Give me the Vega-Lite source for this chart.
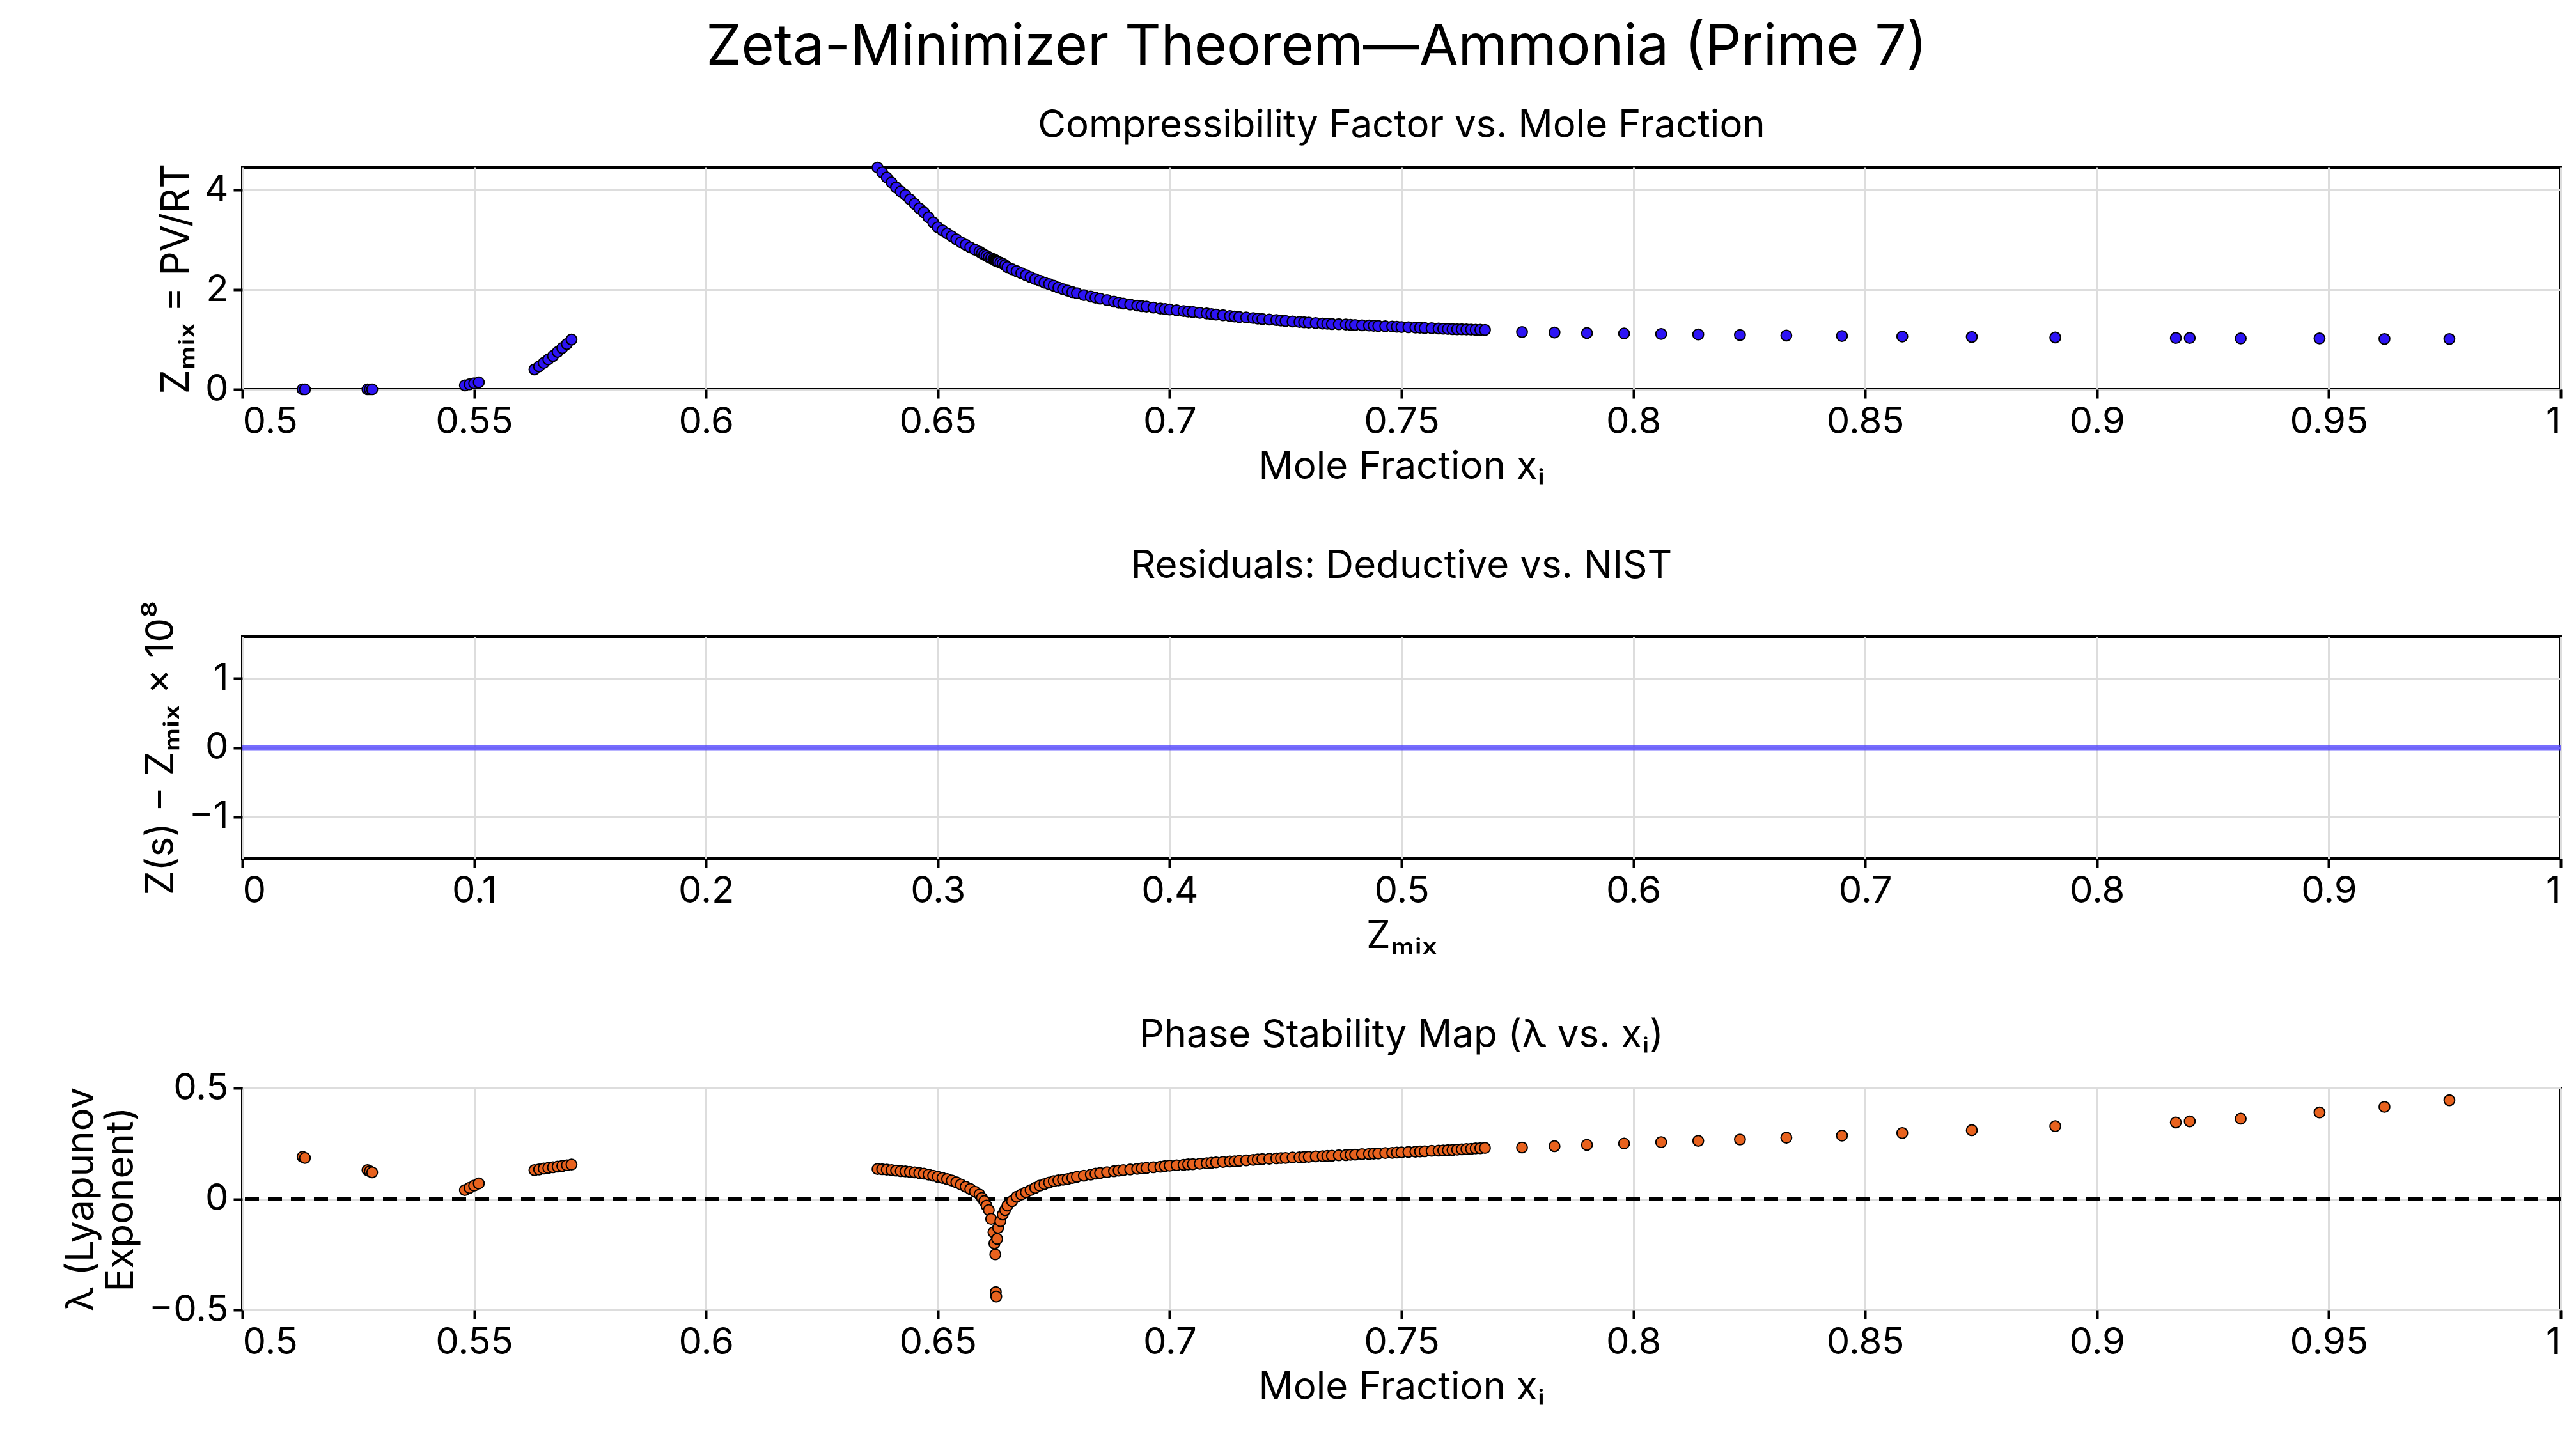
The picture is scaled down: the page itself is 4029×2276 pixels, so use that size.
{
  "$schema": "https://vega.github.io/schema/vega-lite/v6.json",
  "background": "white",
  "padding": {"left": 95, "top": 30, "right": 25, "bottom": 10},
  "title": {"text": "Zeta-Minimizer Theorem—Ammonia (Prime 7)", "fontSize": 88, "font": "Inter", "fontWeight": "normal", "anchor": "middle", "offset": 46},
  "config": {
    "font": "Inter",
    "view": {"stroke": "black", "strokeWidth": 4},
    "title": {"fontSize": 60, "fontWeight": "normal", "font": "Inter", "offset": 22},
    "axis": {"labelFontSize": 58, "titleFontSize": 60, "titleFontWeight": "normal", "labelFont": "Inter", "titleFont": "Inter",
             "domain": false, "tickColor": "black", "tickWidth": 4, "tickSize": 14, "labelPadding": 8, "titlePadding": 12,
             "gridColor": "#dddddd", "gridWidth": 3, "labelColor": "black", "titleColor": "black"}
  },
  "spacing": 92,
  "datasets": {
    "pts": [
      {"x": 0.513, "z": 0.0, "lam": 0.19},
      {"x": 0.5135, "z": 0.0, "lam": 0.185},
      {"x": 0.527, "z": 0.0, "lam": 0.13},
      {"x": 0.5275, "z": 0.0, "lam": 0.125},
      {"x": 0.528, "z": 0.0, "lam": 0.12},
      {"x": 0.548, "z": 0.08, "lam": 0.04},
      {"x": 0.549, "z": 0.1, "lam": 0.05},
      {"x": 0.55, "z": 0.12, "lam": 0.06},
      {"x": 0.551, "z": 0.14, "lam": 0.07},
      {"x": 0.563, "z": 0.4, "lam": 0.13},
      {"x": 0.564, "z": 0.46, "lam": 0.133},
      {"x": 0.565, "z": 0.53, "lam": 0.137},
      {"x": 0.566, "z": 0.6, "lam": 0.14},
      {"x": 0.567, "z": 0.67, "lam": 0.143},
      {"x": 0.568, "z": 0.75, "lam": 0.146},
      {"x": 0.569, "z": 0.83, "lam": 0.149},
      {"x": 0.57, "z": 0.91, "lam": 0.152},
      {"x": 0.571, "z": 1.0, "lam": 0.155},
      {"x": 0.637, "z": 4.45, "lam": 0.135},
      {"x": 0.638, "z": 4.35, "lam": 0.134},
      {"x": 0.639, "z": 4.25, "lam": 0.132},
      {"x": 0.64, "z": 4.15, "lam": 0.13},
      {"x": 0.641, "z": 4.05, "lam": 0.128},
      {"x": 0.642, "z": 3.97, "lam": 0.126},
      {"x": 0.643, "z": 3.9, "lam": 0.124},
      {"x": 0.644, "z": 3.81, "lam": 0.122},
      {"x": 0.645, "z": 3.72, "lam": 0.12},
      {"x": 0.646, "z": 3.63, "lam": 0.117},
      {"x": 0.647, "z": 3.55, "lam": 0.114},
      {"x": 0.648, "z": 3.45, "lam": 0.11},
      {"x": 0.649, "z": 3.35, "lam": 0.105},
      {"x": 0.65, "z": 3.25, "lam": 0.1},
      {"x": 0.651, "z": 3.19, "lam": 0.095},
      {"x": 0.652, "z": 3.13, "lam": 0.09},
      {"x": 0.653, "z": 3.07, "lam": 0.083},
      {"x": 0.654, "z": 3.01, "lam": 0.075},
      {"x": 0.655, "z": 2.95, "lam": 0.065},
      {"x": 0.656, "z": 2.9, "lam": 0.055},
      {"x": 0.657, "z": 2.85, "lam": 0.045},
      {"x": 0.658, "z": 2.8, "lam": 0.033},
      {"x": 0.659, "z": 2.76, "lam": 0.02},
      {"x": 0.6595, "z": 2.73, "lam": 0.005},
      {"x": 0.66, "z": 2.7, "lam": -0.01},
      {"x": 0.6605, "z": 2.68, "lam": -0.03},
      {"x": 0.661, "z": 2.65, "lam": -0.05},
      {"x": 0.6615, "z": 2.63, "lam": -0.09},
      {"x": 0.662, "z": 2.61, "lam": -0.15},
      {"x": 0.6622, "z": 2.6, "lam": -0.2},
      {"x": 0.6624, "z": 2.59, "lam": -0.25},
      {"x": 0.6625, "z": 2.58, "lam": -0.42},
      {"x": 0.6626, "z": 2.58, "lam": -0.44},
      {"x": 0.6628, "z": 2.57, "lam": -0.18},
      {"x": 0.663, "z": 2.56, "lam": -0.13},
      {"x": 0.6635, "z": 2.54, "lam": -0.1},
      {"x": 0.664, "z": 2.52, "lam": -0.07},
      {"x": 0.6645, "z": 2.49, "lam": -0.05},
      {"x": 0.665, "z": 2.45, "lam": -0.03},
      {"x": 0.666, "z": 2.41, "lam": -0.01},
      {"x": 0.667, "z": 2.37, "lam": 0.01},
      {"x": 0.668, "z": 2.33, "lam": 0.02},
      {"x": 0.669, "z": 2.29, "lam": 0.03},
      {"x": 0.67, "z": 2.25, "lam": 0.04},
      {"x": 0.671, "z": 2.21, "lam": 0.05},
      {"x": 0.672, "z": 2.18, "lam": 0.06},
      {"x": 0.673, "z": 2.14, "lam": 0.067},
      {"x": 0.674, "z": 2.11, "lam": 0.074},
      {"x": 0.675, "z": 2.08, "lam": 0.08},
      {"x": 0.676, "z": 2.04, "lam": 0.084},
      {"x": 0.677, "z": 2.01, "lam": 0.087},
      {"x": 0.678, "z": 1.98, "lam": 0.09},
      {"x": 0.679, "z": 1.95, "lam": 0.095},
      {"x": 0.68, "z": 1.93, "lam": 0.1},
      {"x": 0.6815, "z": 1.89, "lam": 0.105},
      {"x": 0.683, "z": 1.86, "lam": 0.11},
      {"x": 0.684, "z": 1.84, "lam": 0.114},
      {"x": 0.685, "z": 1.82, "lam": 0.117},
      {"x": 0.6865, "z": 1.79, "lam": 0.121},
      {"x": 0.688, "z": 1.76, "lam": 0.125},
      {"x": 0.689, "z": 1.74, "lam": 0.128},
      {"x": 0.69, "z": 1.72, "lam": 0.13},
      {"x": 0.6915, "z": 1.7, "lam": 0.133},
      {"x": 0.693, "z": 1.68, "lam": 0.136},
      {"x": 0.694, "z": 1.67, "lam": 0.138},
      {"x": 0.695, "z": 1.66, "lam": 0.14},
      {"x": 0.6965, "z": 1.64, "lam": 0.143},
      {"x": 0.698, "z": 1.62, "lam": 0.145},
      {"x": 0.699, "z": 1.61, "lam": 0.148},
      {"x": 0.7, "z": 1.6, "lam": 0.15},
      {"x": 0.7015, "z": 1.585, "lam": 0.152},
      {"x": 0.703, "z": 1.57, "lam": 0.154},
      {"x": 0.704, "z": 1.56, "lam": 0.156},
      {"x": 0.705, "z": 1.55, "lam": 0.157},
      {"x": 0.7065, "z": 1.535, "lam": 0.159},
      {"x": 0.708, "z": 1.52, "lam": 0.161},
      {"x": 0.709, "z": 1.51, "lam": 0.163},
      {"x": 0.71, "z": 1.5, "lam": 0.165},
      {"x": 0.7115, "z": 1.485, "lam": 0.167},
      {"x": 0.713, "z": 1.47, "lam": 0.169},
      {"x": 0.714, "z": 1.46, "lam": 0.17},
      {"x": 0.715, "z": 1.45, "lam": 0.172},
      {"x": 0.7165, "z": 1.44, "lam": 0.174},
      {"x": 0.718, "z": 1.43, "lam": 0.176},
      {"x": 0.719, "z": 1.42, "lam": 0.178},
      {"x": 0.72, "z": 1.41, "lam": 0.18},
      {"x": 0.7215, "z": 1.4, "lam": 0.181},
      {"x": 0.723, "z": 1.39, "lam": 0.183},
      {"x": 0.724, "z": 1.38, "lam": 0.184},
      {"x": 0.725, "z": 1.37, "lam": 0.185},
      {"x": 0.7265, "z": 1.36, "lam": 0.187},
      {"x": 0.728, "z": 1.35, "lam": 0.188},
      {"x": 0.729, "z": 1.345, "lam": 0.189},
      {"x": 0.73, "z": 1.34, "lam": 0.19},
      {"x": 0.7315, "z": 1.33, "lam": 0.192},
      {"x": 0.733, "z": 1.32, "lam": 0.193},
      {"x": 0.734, "z": 1.315, "lam": 0.194},
      {"x": 0.735, "z": 1.31, "lam": 0.195},
      {"x": 0.7365, "z": 1.305, "lam": 0.197},
      {"x": 0.738, "z": 1.3, "lam": 0.198},
      {"x": 0.739, "z": 1.295, "lam": 0.199},
      {"x": 0.74, "z": 1.29, "lam": 0.2},
      {"x": 0.7415, "z": 1.285, "lam": 0.202},
      {"x": 0.743, "z": 1.28, "lam": 0.203},
      {"x": 0.744, "z": 1.275, "lam": 0.204},
      {"x": 0.745, "z": 1.27, "lam": 0.205},
      {"x": 0.7465, "z": 1.265, "lam": 0.207},
      {"x": 0.748, "z": 1.26, "lam": 0.208},
      {"x": 0.749, "z": 1.255, "lam": 0.209},
      {"x": 0.75, "z": 1.25, "lam": 0.21},
      {"x": 0.7515, "z": 1.245, "lam": 0.212},
      {"x": 0.753, "z": 1.24, "lam": 0.213},
      {"x": 0.754, "z": 1.235, "lam": 0.214},
      {"x": 0.755, "z": 1.23, "lam": 0.215},
      {"x": 0.7565, "z": 1.225, "lam": 0.217},
      {"x": 0.758, "z": 1.22, "lam": 0.218},
      {"x": 0.759, "z": 1.215, "lam": 0.219},
      {"x": 0.76, "z": 1.21, "lam": 0.22},
      {"x": 0.761, "z": 1.208, "lam": 0.221},
      {"x": 0.762, "z": 1.205, "lam": 0.222},
      {"x": 0.763, "z": 1.203, "lam": 0.224},
      {"x": 0.764, "z": 1.2, "lam": 0.225},
      {"x": 0.765, "z": 1.198, "lam": 0.226},
      {"x": 0.766, "z": 1.195, "lam": 0.228},
      {"x": 0.767, "z": 1.193, "lam": 0.229},
      {"x": 0.768, "z": 1.19, "lam": 0.23},
      {"x": 0.776, "z": 1.15, "lam": 0.232},
      {"x": 0.783, "z": 1.14, "lam": 0.238},
      {"x": 0.79, "z": 1.13, "lam": 0.244},
      {"x": 0.798, "z": 1.12, "lam": 0.25},
      {"x": 0.806, "z": 1.11, "lam": 0.256},
      {"x": 0.814, "z": 1.1, "lam": 0.262},
      {"x": 0.823, "z": 1.09, "lam": 0.268},
      {"x": 0.833, "z": 1.08, "lam": 0.276},
      {"x": 0.845, "z": 1.07, "lam": 0.286},
      {"x": 0.858, "z": 1.06, "lam": 0.297},
      {"x": 0.873, "z": 1.05, "lam": 0.31},
      {"x": 0.891, "z": 1.04, "lam": 0.328},
      {"x": 0.917, "z": 1.03, "lam": 0.345},
      {"x": 0.92, "z": 1.03, "lam": 0.35},
      {"x": 0.931, "z": 1.02, "lam": 0.362},
      {"x": 0.948, "z": 1.02, "lam": 0.39},
      {"x": 0.962, "z": 1.01, "lam": 0.415},
      {"x": 0.976, "z": 1.01, "lam": 0.445}
    ],
    "resid": [
      {"zmix": 0.0, "r": 0.0},
      {"zmix": 1.0, "r": 0.0}
    ]
  },
  "vconcat": [
    {
      "title": "Compressibility Factor vs. Mole Fraction",
      "width": 3626,
      "height": 347,
      "data": {"name": "pts"},
      "mark": {"type": "point", "filled": true, "size": 280, "color": "#2d14f5", "stroke": "black", "strokeWidth": 2, "opacity": 1},
      "encoding": {
        "x": {"field": "x", "type": "quantitative", "scale": {"domain": [0.5, 1], "nice": false},
              "axis": {"values": [0.5, 0.55, 0.6, 0.65, 0.7, 0.75, 0.8, 0.85, 0.9, 0.95, 1], "format": "~g", "title": "Mole Fraction xᵢ"}},
        "y": {"field": "z", "type": "quantitative", "scale": {"domain": [0, 4.45], "nice": false},
              "axis": {"values": [0, 2, 4], "title": "Zₘᵢₓ = PV/RT"}}
      }
    },
    {
      "title": "Residuals: Deductive vs. NIST",
      "width": 3626,
      "height": 347,
      "data": {"name": "resid"},
      "mark": {"type": "line", "color": "#4a3cff", "strokeWidth": 8, "opacity": 0.75},
      "encoding": {
        "x": {"field": "zmix", "type": "quantitative", "scale": {"domain": [0, 1], "nice": false},
              "axis": {"values": [0, 0.1, 0.2, 0.3, 0.4, 0.5, 0.6, 0.7, 0.8, 0.9, 1], "format": "~g", "title": "Zₘᵢₓ"}},
        "y": {"field": "r", "type": "quantitative", "scale": {"domain": [-1.6, 1.6], "nice": false},
              "axis": {"values": [-1, 0, 1], "format": "~g", "title": "Z(s) − Zₘᵢₓ × 10⁸"}}
      }
    },
    {
      "title": "Phase Stability Map (λ vs. xᵢ)",
      "width": 3626,
      "height": 347,
      "layer": [
        {
          "data": {"values": [{"y": 0}]},
          "mark": {"type": "rule", "color": "black", "strokeWidth": 5, "strokeDash": [22, 14]},
          "encoding": {"y": {"field": "y", "type": "quantitative"}}
        },
        {
          "data": {"name": "pts"},
          "mark": {"type": "point", "filled": true, "size": 280, "color": "#e8621e", "stroke": "black", "strokeWidth": 2, "opacity": 1},
          "encoding": {
            "x": {"field": "x", "type": "quantitative", "scale": {"domain": [0.5, 1], "nice": false},
                  "axis": {"values": [0.5, 0.55, 0.6, 0.65, 0.7, 0.75, 0.8, 0.85, 0.9, 0.95, 1], "format": "~g", "title": "Mole Fraction xᵢ"}},
            "y": {"field": "lam", "type": "quantitative", "scale": {"domain": [-0.5, 0.5], "nice": false},
                  "axis": {"values": [-0.5, 0, 0.5], "format": "~g", "title": ["λ (Lyapunov", "Exponent)"]}}
          }
        }
      ]
    }
  ]
}
